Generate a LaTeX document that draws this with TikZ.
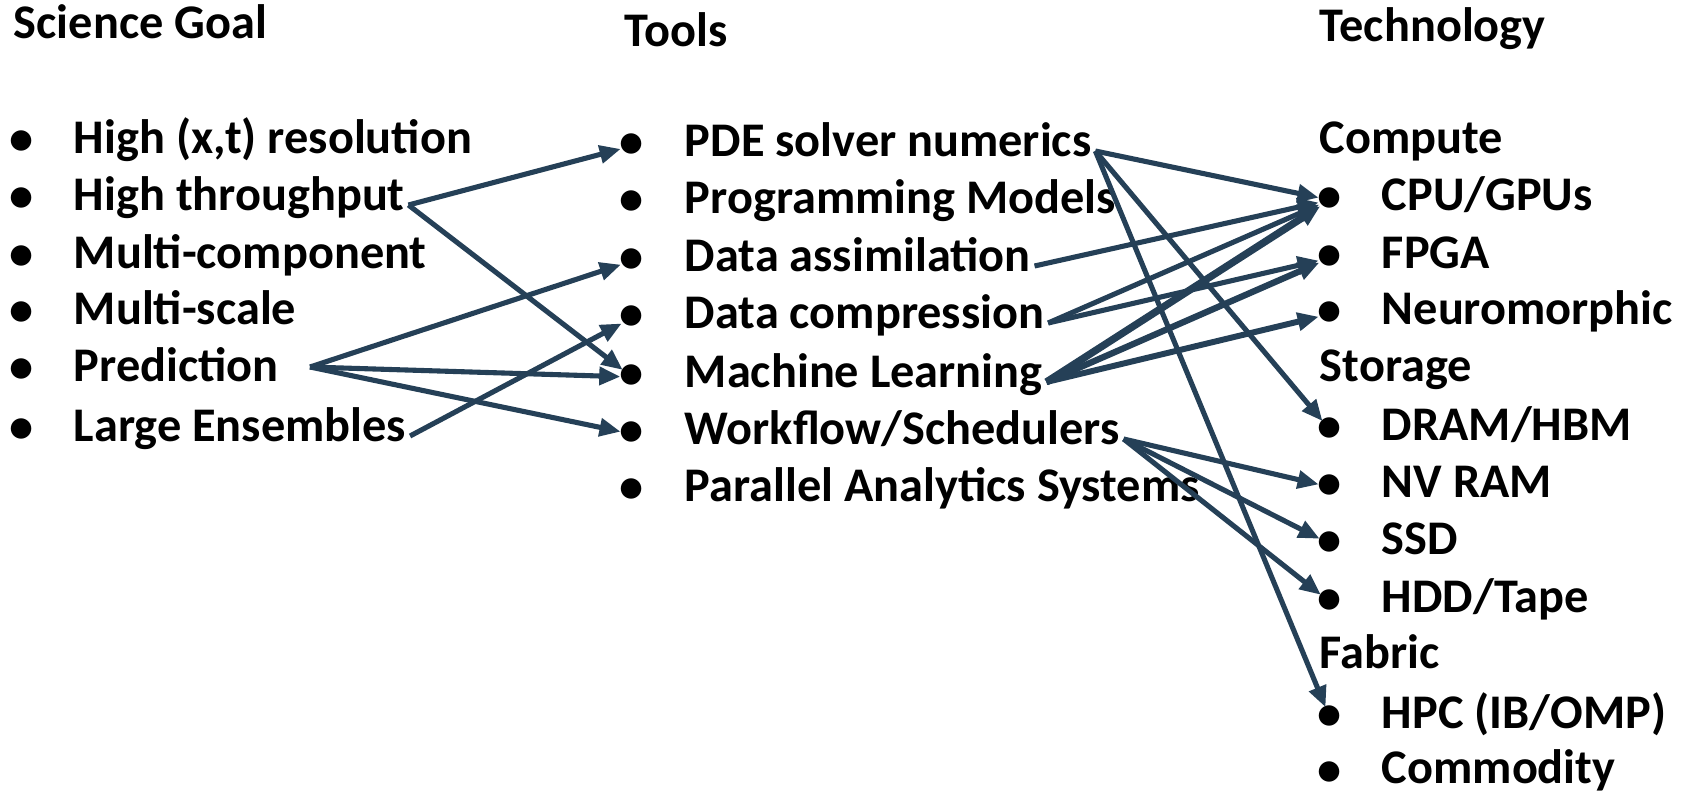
\documentclass[tikz,border=0pt]{standalone}
\usepackage{fontspec}
\setmainfont{Carlito}
\usetikzlibrary{arrows.meta}
\definecolor{linkblue}{RGB}{37,64,87}

\begin{document}
\begin{tikzpicture}[x=0.02cm, y=-0.02cm,
    txt/.style={anchor=west, inner sep=2pt, font=\bfseries\fontsize{27.5}{33}\selectfont, text height=.65em, text depth=0pt},
    bul/.style={circle, inner sep=0pt, outer sep=-3pt, font=\bfseries\fontsize{27.5}{33}\selectfont},
    lnk/.style={linkblue, line width=2.9pt, -{Triangle[length=12pt, width=10pt]}}]
\useasboundingbox (0,0) rectangle (1686,794);

% headings
\node[txt] (hsg) at (10,33) {Science Goal};
\node[txt] (htl) at (621,41) {Tools};
\node[txt] (htc) at (1316,36) {Technology};

% science goals
\node[bul] (gb1) at (22,143) {\textbullet};
\node[txt] (g1) at (70,148) {High (x,t) resolution};
\node[bul] (gb2) at (22,200) {\textbullet};
\node[txt] (g2) at (70,205) {High throughput};
\node[bul] (gb3) at (22,258) {\textbullet};
\node[txt] (g3) at (70,263) {Multi-component};
\node[bul] (gb4) at (22,314) {\textbullet};
\node[txt] (g4) at (70,319) {Multi-scale};
\node[bul] (gb5) at (22,371) {\textbullet};
\node[txt] (g5) at (70,376) {Prediction};
\node[bul] (gb6) at (22,431) {\textbullet};
\node[txt] (g6) at (70,436) {Large Ensembles};
\coordinate (g5r) at (310,367);

% tools
\node[bul] (tb1) at (632,146) {\textbullet};
\node[txt] (t1) at (681,151) {PDE solver numerics};
\node[bul] (tb2) at (632,203) {\textbullet};
\node[txt] (t2) at (681,208) {Programming Models};
\node[bul] (tb3) at (632,261) {\textbullet};
\node[txt] (t3) at (681,266) {Data assimilation};
\node[bul] (tb4) at (632,318) {\textbullet};
\node[txt] (t4) at (681,323) {Data compression};
\node[bul] (tb5) at (632,377) {\textbullet};
\node[txt] (t5) at (681,382) {Machine Learning};
\node[bul] (tb6) at (632,434) {\textbullet};
\node[txt] (t6) at (681,439) {Workflow/Schedulers};
\node[bul] (tb7) at (632,491) {\textbullet};
\node[txt] (t7) at (681,496) {Parallel Analytics Systems};

% technology
\node[txt] (hc) at (1316,148) {Compute};
\node[bul] (cb1) at (1330,200) {\textbullet};
\node[txt] (c1) at (1378,205) {CPU/GPUs};
\node[bul] (cb2) at (1330,258) {\textbullet};
\node[txt] (c2) at (1378,263) {FPGA};
\node[bul] (cb3) at (1330,314) {\textbullet};
\node[txt] (c3) at (1378,319) {Neuromorphic};
\node[txt] (hs) at (1316,376) {Storage};
\node[bul] (sb1) at (1330,430) {\textbullet};
\node[txt] (s1) at (1378,435) {DRAM/HBM};
\node[bul] (sb2) at (1330,487) {\textbullet};
\node[txt] (s2) at (1378,492) {NV RAM};
\node[bul] (sb3) at (1330,544) {\textbullet};
\node[txt] (s3) at (1378,549) {SSD};
\node[bul] (sb4) at (1330,602) {\textbullet};
\node[txt] (s4) at (1378,607) {HDD/Tape};
\node[txt] (hf) at (1316,663) {Fabric};
\node[bul] (fb1) at (1330,718) {\textbullet};
\node[txt] (f1) at (1378,723) {HPC (IB/OMP)};
\node[bul] (fb2) at (1330,774) {\textbullet};
\node[txt] (f2) at (1378,778) {Commodity};

% goals to tools
\path[lnk]
(g2.east) edge (tb1)
(g2.east) edge (tb5)
(g5r) edge (tb3)
(g5r) edge (tb5)
(g5r) edge (tb6)
(g6.east) edge (tb4);

% tools to technology
\path[lnk]
(t1.east) edge (cb1)
(t1.east) edge (sb1)
(t1.east) edge (fb1)
(t3.east) edge (cb1)
(t4.east) edge (cb1)
(t4.east) edge (cb2)
(t5.east) edge[line width=4.2pt] (cb1)
(t5.east) edge[line width=3.6pt] (cb2)
(t5.east) edge[line width=3.4pt] (cb3)
(t6.east) edge (sb2)
(t6.east) edge (sb3)
(t6.east) edge (sb4);
\end{tikzpicture}
\end{document}
